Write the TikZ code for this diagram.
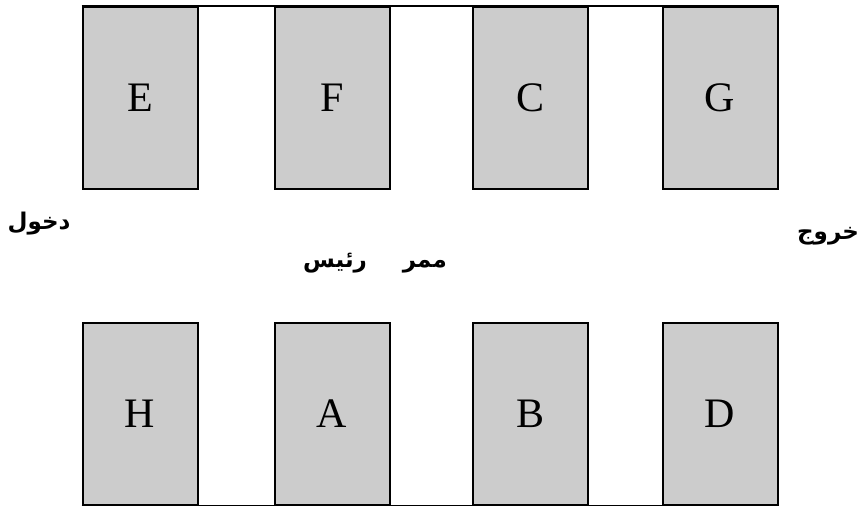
\documentclass[tikz,border=0pt]{standalone}
\usepackage{fontspec}
\setmainfont{Liberation Serif}
\newfontfamily\arabicfont[Script=Arabic]{DejaVu Sans}
\TeXXeTstate=1
\usetikzlibrary{positioning}

\tikzset{
  stall/.style={rectangle,draw,line width=2pt,fill=black!20,
    minimum width=115pt,minimum height=182pt,inner sep=0pt,
    font=\fontsize{42}{42}\selectfont},
  sign/.style={font=\arabicfont\bfseries\fontsize{23}{23}\selectfont}
}

\begin{document}
\begin{tikzpicture}[x=1pt,y=-1pt]
            \useasboundingbox (0,0) rectangle (865,506);

            % upper row
            \path   (140,98)   node (E) [stall] {E}
                    (332,98)   node (F) [stall] {F}
                    (530.5,98) node (C) [stall] {C}
                    (720,98)   node (G) [stall] {G};
            % lower row
            \path   (140,414)   node (H) [stall] {H}
                    (332,414)   node (A) [stall] {A}
                    (530.5,414) node (B) [stall] {B}
                    (720,414)   node (D) [stall] {D};

            \draw[line width=2pt] (E.north west) -- (G.north east);
            \draw[line width=2pt] (H.south west) -- (D.south east);

            \path   (39,224)  node (in)   [sign] {\beginR دخول\endR}
                    (828,236) node (out)  [sign] {\beginR خروج\endR}
                    (375,263) node (hall) [sign] {\beginR ممر\hspace{36pt}رئيس\endR};
        \end{tikzpicture}
\end{document}
